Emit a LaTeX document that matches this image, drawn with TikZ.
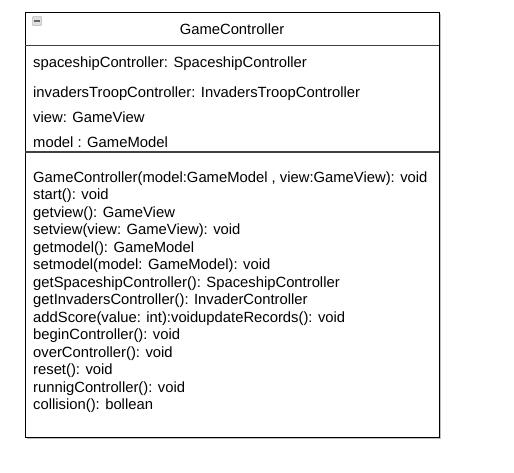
\documentclass[tikz,border=0pt]{standalone}
\usepackage{fontspec}
\setmainfont{Liberation Sans}
\begin{document}
\begin{tikzpicture}[x=1pt,y=-1pt,
  txt/.style={anchor=base west,inner sep=0pt,font=\fontsize{14.8}{17}\selectfont},
  boxline/.style={draw=black,line width=1pt},
  shadow/.style={draw=black!25,line width=1.2pt}]
\useasboundingbox[fill=white] (0,0) rectangle (514,472);
% shadow
\draw[shadow] (27,438.5) -- (440.5,438.5) -- (440.5,14);
% class box
\node[boxline,minimum width=414pt,minimum height=425pt,inner sep=0pt,anchor=north west] (box) at (25,12) {};
\draw[draw=black!75,line width=1pt] (25,45) -- (439,45);
\draw[draw=black!75,line width=1.2pt] (25,152) -- (439,152);
% collapse icon
\node[draw=black!45,fill=black!12,rounded corners=0.8pt,minimum size=9pt,inner sep=0pt] (icon) at (37,21) {};
\draw[black!60,line width=1.5pt] (34,21) -- (40,21);
% title
\node[anchor=center,inner sep=0pt,font=\fontsize{14.8}{17}\selectfont] (title) at (232,29) {GameController};
% attributes
\node[txt] (a1) at (33,67) {spaceshipController: SpaceshipController};
\node[txt] (a2) at (33,97) {invadersTroopController: InvadersTroopController};
\node[txt] (a3) at (33,122) {view: GameView};
\node[txt] (a4) at (33,147) {model : GameModel};
% operations
\node[txt] (o1) at (33,182) {GameController(model:GameModel , view:GameView): void};
\node[txt] (o2) at (33,199.5) {start(): void};
\node[txt] (o3) at (33,217) {getview(): GameView};
\node[txt] (o4) at (33,234.5) {setview(view: GameView): void};
\node[txt] (o5) at (33,252) {getmodel(): GameModel};
\node[txt] (o6) at (33,269.5) {setmodel(model: GameModel): void};
\node[txt] (o7) at (33,287) {getSpaceshipController(): SpaceshipController};
\node[txt] (o8) at (33,304.5) {getInvadersController(): InvaderController};
\node[txt] (o9) at (33,322) {addScore(value: int):voidupdateRecords(): void};
\node[txt] (o10) at (33,339.5) {beginController(): void};
\node[txt] (o11) at (33,357) {overController(): void};
\node[txt] (o12) at (33,374.5) {reset(): void};
\node[txt] (o13) at (33,392) {runnigController(): void};
\node[txt] (o14) at (33,409.5) {collision(): bollean};
\end{tikzpicture}
\end{document}
